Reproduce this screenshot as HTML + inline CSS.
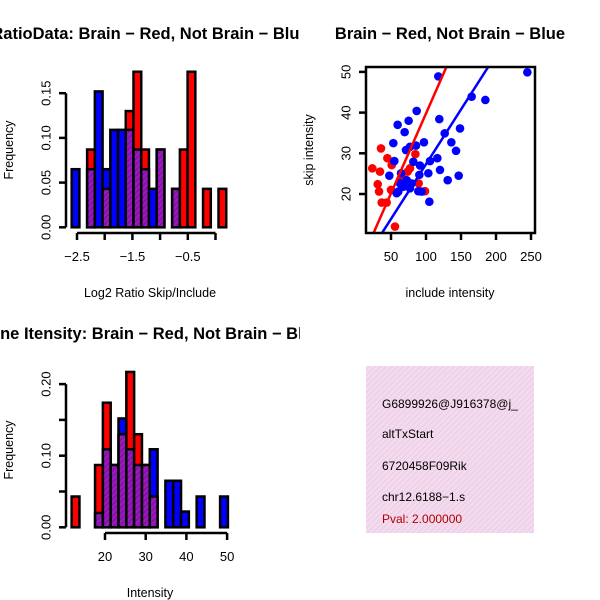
<!DOCTYPE html>
<html><head><meta charset="utf-8"><style>
body{margin:0;background:#fff;}
svg{display:block;font-family:"Liberation Sans",Arial,sans-serif;}
</style></head><body>
<svg id="c" width="600" height="600" viewBox="0 0 600 600">
<defs>
<pattern id="hatch" width="4" height="4" patternUnits="userSpaceOnUse" patternTransform="rotate(45)">
<rect width="4" height="4" fill="#9a18c0"/><line x1="0" y1="0" x2="0" y2="4" stroke="#6a1080" stroke-width="1.6"/>
</pattern>
<pattern id="pinkhatch" width="4" height="4" patternUnits="userSpaceOnUse" patternTransform="rotate(45)">
<rect width="4" height="4" fill="#f6d8f2"/><line x1="0" y1="0" x2="0" y2="4" stroke="#d8d0c8" stroke-width="1.2"/>
</pattern>
<clipPath id="left"><rect x="0" y="0" width="300" height="600"/></clipPath>
<clipPath id="sc"><rect x="366" y="67" width="169" height="166"/></clipPath>
</defs>
<g id="p1"></g>
<g id="p2"></g>
<g id="p3"></g>
<g>
<rect x="366" y="366" width="168" height="167" fill="url(#pinkhatch)"/>
<text x="382" y="408" font-size="12">G6899926@J916378@j_</text>
<text x="382" y="438" font-size="12">altTxStart</text>
<text x="382" y="470" font-size="12">6720458F09Rik</text>
<text x="382" y="501" font-size="12">chr12.6188−1.s</text>
<text x="382" y="523" font-size="12" fill="#b00000">Pval: 2.000000</text>
</g>
</svg>
<script>
// Histogram 1 (log2 ratio)
const h1Start = -2.596, h1Width = 0.1395;
const h1Red  = [0,0,0.087,0,0.043,0,0,0.13,0.174,0.087,0,0.087,0,0.043,0.087,0.174,0,0.043,0,0.043];
const h1Blue = [0.065,0,0.065,0.152,0.065,0.109,0.109,0.109,0.087,0.065,0.043,0.087,0,0.043,0,0,0,0,0,0];
const h1YTicks = [0,0.05,0.10,0.15];
const h1YLabels = ["0.00","0.05","0.10","0.15"];
const h1XTicks = [-2.5,-2,-1.5,-1,-0.5,0];
const h1XLabels = ["−2.5","","−1.5","","−0.5",""];
// Histogram 2 (intensity)
const h2Start = 11.8, h2Width = 1.92;
const h2Red  = [0.043,0,0,0.087,0.174,0.087,0.13,0.217,0.13,0.087,0.043,0,0,0,0,0,0,0,0,0];
const h2Blue = [0,0,0,0.02,0.109,0.087,0.152,0.109,0.087,0.087,0.109,0,0.065,0.065,0.022,0,0.043,0,0,0.043];
const h2YTicks = [0,0.05,0.10,0.15,0.20];
const h2YLabels = ["0.00","","0.10","","0.20"];
const h2XTicks = [20,30,40,50];
const h2XLabels = ["20","30","40","50"];
// Scatter
const blueX = [117.6,244.8,165.2,184.8,86.7,119,75.2,59.5,69.5,148.6,126.7,136.2,53.3,97.1,142.9,71.4,77.1,85.7,54.8,105.7,116.2,103.3,120,91.4,47.6,64.3,131,146.7,90.5,62.9,72.4,79.5,67.6,60.5,77.1,89,93.8,104.8,81.9,58.1];
const blueY = [48.9,49.9,43.9,43.1,40.4,38.4,38,37,35.2,36.1,34.9,32.7,32.5,32.7,30.6,30.8,31.6,31.9,28.1,28.1,28.8,25.1,25.9,27,24.5,25.1,23.4,24.5,24.7,22.6,23.4,22.6,21.8,20.6,21.4,20.7,20.6,18.1,27.9,20.2];
const redX = [23.3,35.7,34.3,44.8,51,31,32.9,36.7,43.8,50,55.7,84.8,73.8,77.1,67.6,89.5,98.6,62.9,70];
const redY = [26.3,31.2,25.5,28.8,27.1,22.4,20.6,17.9,17.9,21,12,29.8,25.5,26.3,23.7,22.6,20.7,23,22.2];
const fitRed = [0.58,0.392];   // intercept, slope
const fitBlue = [0.42,0.269];
const scXTicks = [50,100,150,200,250];
const scYTicks = [20,30,40,50];

const NS="http://www.w3.org/2000/svg";
function mk(parent,tag,attrs,txt){const e=document.createElementNS(NS,tag);for(const k in attrs)e.setAttribute(k,attrs[k]);if(txt!==undefined)e.textContent=txt;parent.appendChild(e);return e;}

function hist(g,cfg){
  const {start,width,red,blue,xs,ys,yticks,ylabels,xticks,xlabels,yAxisX,xAxisY,title,titleY,xlab,xlabY,ylabX,ylabY}=cfg;
  for(let i=0;i<red.length;i++){
    const x0=xs(start+i*width), x1=xs(start+(i+1)*width);
    const r=red[i], b=blue[i];
    const mx=Math.max(r,b), mn=Math.min(r,b);
    if(mx>0){
      const e=mk(g,'rect',{x:x0,y:ys(mx),width:x1-x0,height:ys(0)-ys(mx),fill:r>=b?'#ff0000':'#0000ff',stroke:'#000','stroke-width':2.5});
      
      
    }
    if(mn>0){
      const e=mk(g,'rect',{x:x0,y:ys(mn),width:x1-x0,height:ys(0)-ys(mn),fill:'url(#hatch)',stroke:'#000','stroke-width':2.5});
      
      
    }
  }
  const ya=mk(g,'g',{});
  
  
  mk(ya,'line',{x1:yAxisX,x2:yAxisX,y1:ys(yticks[0]),y2:ys(yticks[yticks.length-1]),stroke:'#000','stroke-width':2.5});
  yticks.forEach((t,i)=>{
    mk(ya,'line',{x1:yAxisX-7,x2:yAxisX,y1:ys(t),y2:ys(t),stroke:'#000','stroke-width':2.5});
    if(ylabels[i]){const tx=mk(ya,'text',{x:yAxisX-20,y:ys(t),'font-size':13,'text-anchor':'middle',transform:`rotate(-90 ${yAxisX-20} ${ys(t)})`,'dominant-baseline':'central'},ylabels[i]);
      
      }
  });
  const xa=mk(g,'g',{});
  
  
  mk(xa,'line',{x1:xs(xticks[0]),x2:xs(xticks[xticks.length-1]),y1:xAxisY,y2:xAxisY,stroke:'#000','stroke-width':2.5});
  xticks.forEach((t,i)=>{
    mk(xa,'line',{x1:xs(t),x2:xs(t),y1:xAxisY,y2:xAxisY+7,stroke:'#000','stroke-width':2.5});
    if(xlabels[i]){const tx=mk(xa,'text',{x:xs(t),y:xAxisY+28,'font-size':13,'text-anchor':'middle'},xlabels[i]);
      
      }
  });
  const tt=mk(g,'text',{x:150,y:titleY,'font-size':16.5,'font-weight':'bold','text-anchor':'middle','clip-path':'url(#left)'},title);
  
  
  const xl=mk(g,'text',{x:150,y:xlabY,'font-size':12.5,'text-anchor':'middle'},xlab);
  
  
  const yl=mk(g,'text',{x:ylabX,y:ylabY,'font-size':12.5,'text-anchor':'middle',transform:`rotate(-90 ${ylabX} ${ylabY})`},'Frequency');
  
  
}

hist(document.getElementById('p1'),{start:h1Start,width:h1Width,red:h1Red,blue:h1Blue,
  xs:v=>77+(v+2.5)*55.4, ys:v=>227.3-v*894,
  yticks:h1YTicks,ylabels:h1YLabels,xticks:h1XTicks,xlabels:h1XLabels,yAxisX:66,xAxisY:233,
  title:'RatioData: Brain − Red, Not Brain − Blue',titleY:39,xlab:'Log2 Ratio Skip/Include',xlabY:297,ylabX:13,ylabY:150});
hist(document.getElementById('p3'),{start:h2Start,width:h2Width,red:h2Red,blue:h2Blue,
  xs:v=>105+(v-20)*4.07, ys:v=>527.3-v*716,
  yticks:h2YTicks,ylabels:h2YLabels,xticks:h2XTicks,xlabels:h2XLabels,yAxisX:66,xAxisY:533,
  title:'Gene Itensity: Brain − Red, Not Brain − Blue',titleY:339,xlab:'Intensity',xlabY:597,ylabX:13,ylabY:450});

(function(){
  const g=document.getElementById('p2');
  const xs=v=>391+(v-50)*0.7, ys=v=>194-(v-20)*4.07;
  const pts=mk(g,'g',{'clip-path':'url(#sc)'});
  function line(fit,color,name){
    const x0=0,x1=300;
    const l=mk(pts,'line',{x1:xs(x0),y1:ys(fit[0]+fit[1]*x0),x2:xs(x1),y2:ys(fit[0]+fit[1]*x1),stroke:color,'stroke-width':2.5});
    
    
  }
  redX.forEach((x,i)=>{const c=mk(pts,'circle',{cx:xs(x),cy:ys(redY[i]),r:4.3,fill:'#ff0000'});
    
    });
  blueX.forEach((x,i)=>{const c=mk(pts,'circle',{cx:xs(x),cy:ys(blueY[i]),r:4.3,fill:'#0000ff'});
    
    });
  line(fitRed,'#ff0000','red-fit-line');
  line(fitBlue,'#0000ff','blue-fit-line');
  mk(g,'rect',{x:366,y:67,width:169,height:166,fill:'none',stroke:'#000','stroke-width':2.5});
  scXTicks.forEach(t=>{
    mk(g,'line',{x1:xs(t),x2:xs(t),y1:233,y2:240,stroke:'#000','stroke-width':2.5});
    const tx=mk(g,'text',{x:xs(t),y:261,'font-size':13,'text-anchor':'middle'},String(t));
    
    
  });
  scYTicks.forEach(t=>{
    mk(g,'line',{x1:359,x2:366,y1:ys(t),y2:ys(t),stroke:'#000','stroke-width':2.5});
    const tx=mk(g,'text',{x:346,y:ys(t),'font-size':13,'text-anchor':'middle','dominant-baseline':'central',transform:`rotate(-90 346 ${ys(t)})`},String(t));
    
    
  });
  const t=mk(g,'text',{x:450,y:39,'font-size':16.5,'font-weight':'bold','text-anchor':'middle'},'Brain − Red, Not Brain − Blue');
  
  
  const xl=mk(g,'text',{x:450,y:297,'font-size':12.5,'text-anchor':'middle'},'include intensity');
  
  
  const yl=mk(g,'text',{x:313,y:150,'font-size':12.5,'text-anchor':'middle',transform:'rotate(-90 313 150)'},'skip intensity');
  
  
})();
</script>
</body></html>
